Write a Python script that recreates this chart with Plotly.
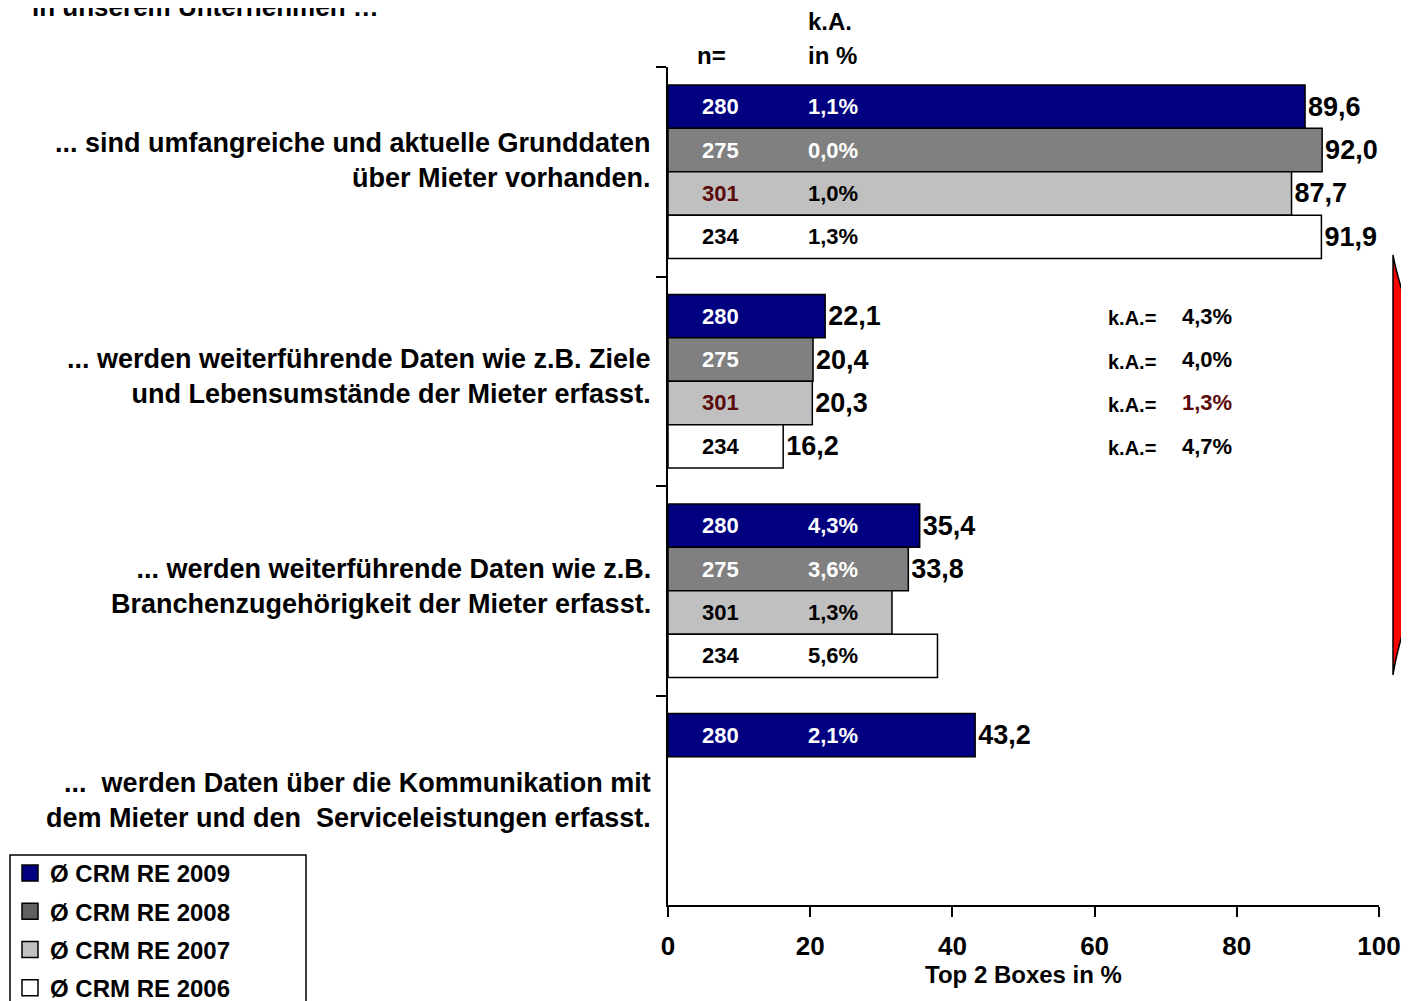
import plotly.graph_objects as go

# ---------------- data ----------------
categories = [
    "... sind umfangreiche und aktuelle Grunddaten<br>über Mieter vorhanden.",
    "... werden weiterführende Daten wie z.B. Ziele<br>und Lebensumstände der Mieter erfasst.",
    "... werden weiterführende Daten wie z.B.<br>Branchenzugehörigkeit der Mieter erfasst.",
    "...  werden Daten über die Kommunikation mit<br>dem Mieter und den  Serviceleistungen erfasst.",
]
series_names = ["Ø CRM RE 2009", "Ø CRM RE 2008", "Ø CRM RE 2007", "Ø CRM RE 2006"]

values_2009 = [89.6, 22.1, 35.4, 43.2]
values_2008 = [92.0, 20.4, 33.8, None]
values_2007 = [87.7, 20.3, 31.5, None]
values_2006 = [91.9, 16.2, 37.9, None]

labels_2009 = ["89,6", "22,1", "35,4", "43,2"]
labels_2008 = ["92,0", "20,4", "33,8", ""]
labels_2007 = ["87,7", "20,3", "", ""]
labels_2006 = ["91,9", "16,2", "", ""]

n_2009 = ["280", "280", "280", "280"]
n_2008 = ["275", "275", "275", None]
n_2007 = ["301", "301", "301", None]
n_2006 = ["234", "234", "234", None]

ka_2009 = ["1,1%", "4,3%", "4,3%", "2,1%"]
ka_2008 = ["0,0%", "4,0%", "3,6%", None]
ka_2007 = ["1,0%", "1,3%", "1,3%", None]
ka_2006 = ["1,3%", "4,7%", "5,6%", None]

x_ticks = [0, 20, 40, 60, 80, 100]

values = [values_2009, values_2008, values_2007, values_2006]
labels = [labels_2009, labels_2008, labels_2007, labels_2006]
ns = [n_2009, n_2008, n_2007, n_2006]
kas = [ka_2009, ka_2008, ka_2007, ka_2006]

# ---------------- styles ----------------
FONT = "Liberation Sans, Arial, sans-serif"
bar_colors = ["#000080", "#808080", "#C0C0C0", "#FFFFFF"]
legend_colors = ["#000080", "#606060", "#C0C0C0", "#FFFFFF"]
text_colors = ["white", "white", "black", "black"]
DARKRED = "#5a0a0a"
BARGAP = 0.171
W = (1 - BARGAP) / 4
label_yshift = [11, 5, 4, 0]

# the page has an 8px body margin: figure is drawn 8px right/down in the window,
# and the visible part ends at window x = 1401
OFF = 8
FIG_W = 1409 - 2 * OFF
FIG_H = 1001 - OFF
PLOT_L, PLOT_R, PLOT_T, PLOT_B = 668, 1379, 67, 905  # window pixels


def px(x):  # window pixel -> paper x
    return (x - PLOT_L) / (PLOT_R - PLOT_L)


def py(y):  # window pixel -> paper y
    return (PLOT_B - y) / (PLOT_B - PLOT_T)


fig = go.Figure()
for i, name in enumerate(series_names):
    fig.add_trace(go.Bar(
        y=categories, x=values[i], orientation="h", name=name,
        marker=dict(color=bar_colors[i], line=dict(color="black", width=1.5)),
        text=labels[i], textposition="outside", cliponaxis=False,
        constraintext="none",
        textfont=dict(family=FONT, size=27, color="black", weight="bold"),
        showlegend=False, hoverinfo="skip",
    ))
# legend entries (square swatches)
for i, name in enumerate(series_names):
    fig.add_trace(go.Scatter(
        x=[None], y=[None], mode="markers", name=name,
        marker=dict(symbol="square", size=16, color=legend_colors[i],
                    line=dict(color="black", width=1.5)),
        legendgroup=name, showlegend=True, hoverinfo="skip",
    ))

annotations = []
# category labels
for ci, cat in enumerate(categories):
    annotations.append(dict(x=px(653), y=ci, xref="paper", yref="y", text=cat,
                            showarrow=False, xanchor="right", yanchor="middle", align="right",
                            yshift=label_yshift[ci],
                            font=dict(family=FONT, size=27, color="black", weight="bold")))

for ti in range(4):
    for ci in range(len(categories)):
        yy = ci + (ti - 1.5) * W
        n = ns[ti][ci]
        if n is not None:
            col = text_colors[ti]
            if ti == 2 and ci in (0, 1):
                col = DARKRED
            annotations.append(dict(x=px(700), y=yy, xref="paper", yref="y", text=n,
                                    showarrow=False, xanchor="left", yanchor="middle",
                                    font=dict(family=FONT, size=22, color=col, weight="bold")))
        ka = kas[ti][ci]
        if ka is not None:
            if ci == 1:
                col = DARKRED if ti == 2 else "black"
                annotations.append(dict(x=px(1106), y=yy, xref="paper", yref="y", text="k.A.=",
                                        showarrow=False, xanchor="left", yanchor="middle", yshift=-2,
                                        font=dict(family=FONT, size=20, color="black", weight="bold")))
                annotations.append(dict(x=px(1180), y=yy, xref="paper", yref="y", text=ka,
                                        showarrow=False, xanchor="left", yanchor="middle",
                                        font=dict(family=FONT, size=22, color=col, weight="bold")))
            else:
                col = text_colors[ti]
                annotations.append(dict(x=px(806), y=yy, xref="paper", yref="y", text=ka,
                                        showarrow=False, xanchor="left", yanchor="middle",
                                        font=dict(family=FONT, size=22, color=col, weight="bold")))

# header texts
annotations.append(dict(x=px(695), y=py(56), xref="paper", yref="paper", text="n=",
                        showarrow=False, xanchor="left", yanchor="middle",
                        font=dict(family=FONT, size=24, color="black", weight="bold")))
annotations.append(dict(x=px(806), y=py(21), xref="paper", yref="paper", text="k.A.",
                        showarrow=False, xanchor="left", yanchor="middle",
                        font=dict(family=FONT, size=24, color="black", weight="bold")))
annotations.append(dict(x=px(806), y=py(56), xref="paper", yref="paper", text="in %",
                        showarrow=False, xanchor="left", yanchor="middle",
                        font=dict(family=FONT, size=24, color="black", weight="bold")))
annotations.append(dict(x=px(30), y=py(7), xref="paper", yref="paper",
                        text="in unserem Unternehmen …",
                        showarrow=False, xanchor="left", yanchor="middle",
                        font=dict(family=FONT, size=26, color="black", weight="bold")))

red_path = (f"M {px(1393)},{py(255)} Q {px(1396)},{py(272)} {px(1405)},{py(300)} "
            f"L {px(1405)},{py(625)} Q {px(1396)},{py(655)} {px(1393)},{py(675)} Z")

shapes = [
    dict(type="path", xref="paper", yref="paper", path=red_path, layer="above",
         fillcolor="#FF0000", line=dict(color="black", width=1.5)),
    dict(type="rect", xref="paper", yref="paper", layer="below",
         x0=px(10), x1=px(306), y0=py(1015), y1=py(855),
         fillcolor="white", line=dict(color="black", width=1.5)),
]

fig.update_layout(
    width=FIG_W, height=FIG_H,
    margin=dict(l=PLOT_L - OFF, r=FIG_W - (PLOT_R - OFF), t=PLOT_T - OFF,
                b=FIG_H - (PLOT_B - OFF), pad=0, autoexpand=False),
    paper_bgcolor="white", plot_bgcolor="white",
    font=dict(family=FONT, color="black", weight="bold"),
    barmode="group", bargap=BARGAP, bargroupgap=0,
    separators=",.",
    showlegend=True,
    legend=dict(
        x=px(10), y=py(851), xanchor="left", yanchor="top",
        bgcolor="rgba(0,0,0,0)", borderwidth=0,
        font=dict(family=FONT, size=24, color="black", weight="bold"),
        traceorder="grouped", tracegroupgap=4,
    ),
    xaxis=dict(
        range=[0, 100], tickvals=x_ticks, ticks="outside", ticklen=10, tickwidth=2,
        tickcolor="black", showline=True, linecolor="black", linewidth=2,
        showgrid=False, zeroline=False, ticklabeloverflow="allow",
        tickfont=dict(family=FONT, size=26, color="black", weight="bold"),
        title=dict(text="Top 2 Boxes in %", standoff=3,
                   font=dict(family=FONT, size=24, color="black", weight="bold")),
        ticklabelstandoff=7,
    ),
    yaxis=dict(
        type="category", autorange="reversed", ticks="outside", tickson="boundaries",
        ticklen=10, tickwidth=2, tickcolor="black", showline=True, linecolor="black",
        linewidth=2, showgrid=False, zeroline=False, showticklabels=False,
    ),
    annotations=annotations,
    shapes=shapes,
)

fig.write_html("out.html")
